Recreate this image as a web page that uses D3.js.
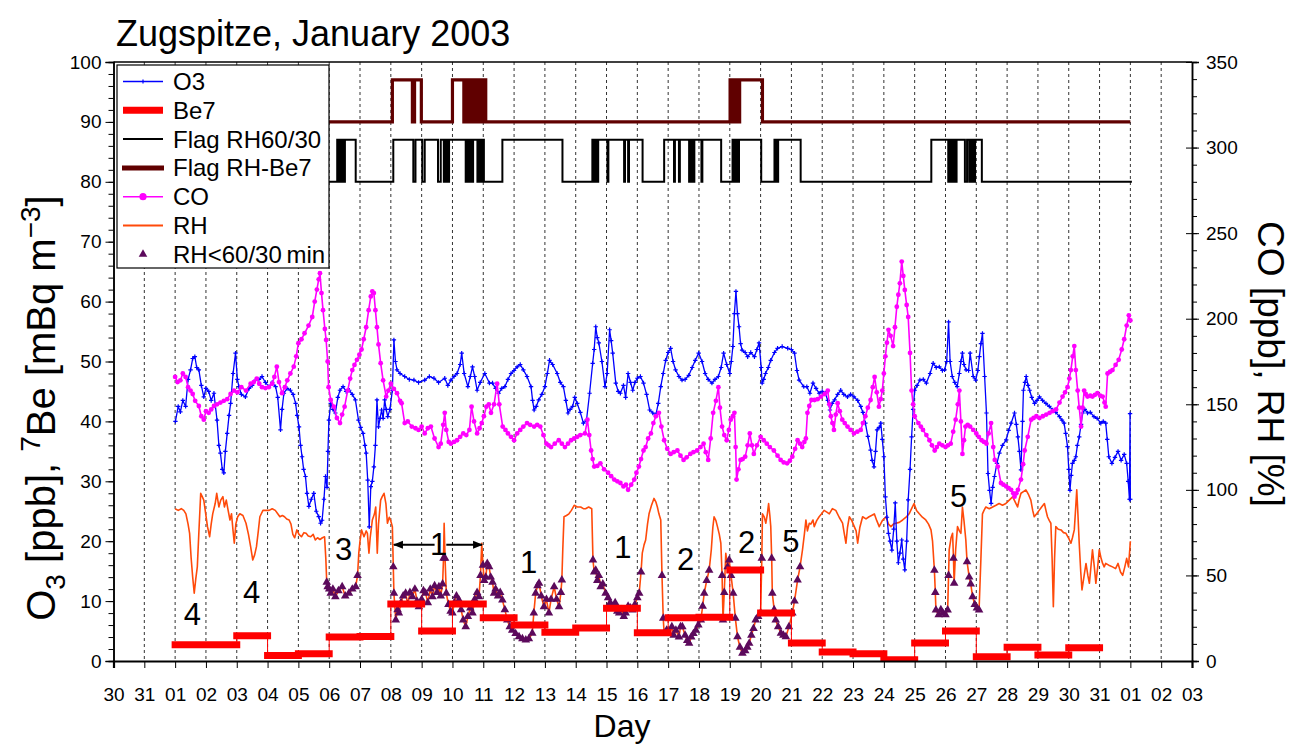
<!DOCTYPE html>
<html><head><meta charset="utf-8">
<script src="https://cdn.jsdelivr.net/npm/d3@7"></script>
<style>
body{margin:0;background:#fff;}
svg{display:block;font-family:"Liberation Sans",Arial,Helvetica,sans-serif;}
</style>
</head><body>
<svg id="chart" width="1295" height="745"></svg>
<script>
// ---- day axis: Dec 30 .. Feb 3 (day 1 = 1 Jan 2003 00:00) ----
const dayTicks = [-1,0,1,2,3,4,5,6,7,8,9,10,11,12,13,14,15,16,17,18,19,20,21,22,23,24,25,26,27,28,29,30,31,32,33,34];
const dayLabels = ["30","31","01","02","03","04","05","06","07","08","09","10","11","12","13","14","15","16","17","18","19","20","21","22","23","24","25","26","27","28","29","30","31","01","02","03"];
const leftTicks = [0,10,20,30,40,50,60,70,80,90,100];
const rightTicks = [0,50,100,150,200,250,300,350];

// ---- O3 [ppb] (left axis) ----
const o3 = [[1.01,40.0],[1.1,42.5],[1.17,41.6],[1.25,43.5],[1.34,42.5],[1.42,47],[1.5,48.6],[1.57,50.5],[1.64,50.8],[1.7,49],[1.77,48.6],[1.85,46],[1.93,44.1],[2.0,45.5],[2.09,45],[2.17,43.5],[2.26,44.7],[2.36,40.2],[2.42,36],[2.47,34.7],[2.53,32],[2.58,31.4],[2.63,35],[2.69,38],[2.75,41],[2.8,43],[2.88,48],[2.96,51.4],[3.02,47],[3.07,45.8],[3.15,44.5],[3.28,44.1],[3.4,45.5],[3.5,46],[3.61,46.9],[3.72,47],[3.82,47.5],[3.93,46.5],[4.04,45.8],[4.15,46.5],[4.26,45.8],[4.33,44],[4.42,38.6],[4.47,42],[4.53,44.7],[4.63,45.5],[4.74,45.2],[4.83,44.5],[4.91,43],[4.96,41],[5.02,39.1],[5.07,36],[5.12,34.1],[5.17,32],[5.23,30.8],[5.28,28],[5.34,25.8],[5.42,27],[5.5,28],[5.58,25],[5.66,24.1],[5.72,23],[5.77,23.5],[5.83,27],[5.88,30.8],[5.93,29],[5.96,35],[5.99,40.2],[6.05,43],[6.12,42],[6.2,41.4],[6.28,44],[6.35,45.2],[6.45,45.8],[6.55,45],[6.65,45.2],[6.75,44.5],[6.85,43.6],[6.95,40.2],[7.02,39],[7.1,38],[7.16,36],[7.2,34.7],[7.25,30.2],[7.3,22.4],[7.35,29.1],[7.4,30],[7.45,32.4],[7.5,36],[7.55,43.6],[7.6,39.1],[7.65,40.5],[7.7,41.9],[7.75,40.5],[7.8,43.6],[7.85,42],[7.9,40.8],[7.97,42],[8.05,45.2],[8.1,53.6],[8.15,50],[8.2,48.6],[8.3,48],[8.45,47.5],[8.6,47],[8.75,46.9],[8.9,46.5],[9.1,46.9],[9.25,47.5],[9.4,47.2],[9.55,46.5],[9.75,47.2],[9.85,46],[9.95,46.9],[10.05,47.5],[10.15,48],[10.25,49.5],[10.3,51.4],[10.38,48],[10.5,45.8],[10.58,47.5],[10.65,49.1],[10.72,47.5],[10.8,45.2],[10.9,46.5],[11.05,48],[11.2,46.4],[11.3,46.4],[11.4,45.5],[11.5,44.7],[11.6,45.5],[11.7,45.8],[11.8,47],[11.9,48],[12.0,48.5],[12.1,49.1],[12.2,49.5],[12.3,48.6],[12.42,47.5],[12.55,45.8],[12.6,43.5],[12.65,41.9],[12.72,42.5],[12.8,43.6],[12.9,44.5],[13.0,45.8],[13.08,48],[13.15,50.2],[13.25,49.5],[13.4,48],[13.5,46.5],[13.6,45.8],[13.68,43.5],[13.75,41.4],[13.82,42],[13.9,42.5],[13.97,44],[14.05,43],[14.15,41.5],[14.25,39.7],[14.35,40.2],[14.45,44.7],[14.55,49.7],[14.6,52],[14.65,55.8],[14.7,54],[14.75,53.1],[14.85,50],[14.95,45.8],[15.02,48],[15.1,55.3],[15.15,53.5],[15.2,51.4],[15.3,46.4],[15.38,45],[15.45,44.7],[15.55,46],[15.62,44],[15.7,48],[15.78,46.5],[15.85,45.2],[15.92,46.5],[16.0,47.2],[16.1,47.5],[16.2,46.4],[16.3,44.5],[16.4,41.9],[16.5,41.4],[16.6,41.1],[16.68,43],[16.76,45.8],[16.84,48],[16.92,50.2],[17.0,51.5],[17.08,52.2],[17.16,50],[17.24,48.6],[17.35,47.5],[17.45,46.9],[17.55,47],[17.67,47.7],[17.78,49],[17.88,50.2],[17.99,51.4],[18.1,50],[18.2,48],[18.3,47],[18.42,46.4],[18.52,47],[18.63,47.5],[18.72,49],[18.8,51.4],[18.9,49.5],[19.0,48],[19.05,50],[19.1,52.5],[19.15,58],[19.2,61.7],[19.25,58],[19.3,55.8],[19.35,53],[19.4,51.9],[19.5,51.5],[19.58,50.8],[19.68,51.5],[19.8,50.8],[19.88,52],[19.95,53.1],[20.02,49],[20.05,46.4],[20.1,47],[20.16,48],[20.25,49],[20.33,50.2],[20.45,51.5],[20.55,52.2],[20.7,52.5],[20.88,52.2],[21.0,52],[21.1,51.4],[21.18,48.5],[21.25,46.9],[21.4,45.8],[21.5,45.8],[21.6,44.7],[21.7,46.4],[21.8,45.5],[21.9,44.7],[22.0,45],[22.1,44.7],[22.18,43.5],[22.25,41.9],[22.32,43],[22.4,43.6],[22.5,44.5],[22.6,45.2],[22.7,44.5],[22.82,44.1],[22.92,44.5],[23.03,44.1],[23.15,43.5],[23.25,42.5],[23.32,41.5],[23.4,39.7],[23.48,37.5],[23.57,35.2],[23.62,33.5],[23.68,32.4],[23.73,35],[23.78,38.6],[23.85,39],[23.9,39.7],[23.95,37],[24.0,34.1],[24.05,27.4],[24.1,24],[24.15,21.3],[24.2,20],[24.26,18.5],[24.32,22],[24.37,26.4],[24.42,20],[24.47,16.4],[24.52,18],[24.58,20.2],[24.63,17],[24.68,15.2],[24.74,20],[24.79,26.9],[24.85,32],[24.9,37.4],[24.95,42],[25.0,45.2],[25.08,46],[25.17,46.9],[25.28,47],[25.38,46.4],[25.5,48],[25.6,49.7],[25.7,49],[25.8,49.1],[25.9,48.5],[25.97,48.6],[26.04,50],[26.1,56.6],[26.15,50],[26.22,47.5],[26.3,46.5],[26.38,45.8],[26.45,48],[26.5,50],[26.55,51.4],[26.6,49.5],[26.67,48.6],[26.75,48.5],[26.8,51.4],[26.9,47.5],[26.98,46.9],[27.05,48.5],[27.1,50.8],[27.15,53],[27.2,54.7],[27.27,47.5],[27.33,41.4],[27.38,31.3],[27.43,28.5],[27.48,26.3],[27.53,29],[27.59,30.8],[27.67,33],[27.75,34.7],[27.85,36],[27.97,36.9],[28.05,38.5],[28.13,39.7],[28.24,41.4],[28.3,39.5],[28.35,37.4],[28.4,35],[28.45,31.9],[28.5,40],[28.53,45.2],[28.58,46.5],[28.62,47.5],[28.68,46],[28.73,45.2],[28.8,44],[28.89,43],[28.97,43.5],[29.05,44.1],[29.15,43.5],[29.26,43],[29.37,42.5],[29.48,41.9],[29.58,41.5],[29.7,40.8],[29.78,40.2],[29.85,39.7],[29.9,38],[29.96,35.8],[30.0,32],[30.04,28.5],[30.08,31],[30.12,33],[30.18,33.5],[30.23,34.1],[30.28,36],[30.34,37.4],[30.4,39.5],[30.45,41.4],[30.52,42],[30.61,41.4],[30.7,41.5],[30.82,40.8],[30.92,40.5],[31.04,39.7],[31.12,40],[31.2,39.7],[31.25,37],[31.3,34.1],[31.4,33],[31.5,34],[31.6,35],[31.7,33.5],[31.8,34.5],[31.88,33],[31.93,30],[31.97,27],[31.99,41.3],[32.0,27]];

// ---- CO [ppb] (right axis) ----
const co = [[1.0,166],[1.08,163],[1.17,164],[1.25,168],[1.34,166],[1.42,160],[1.5,158],[1.57,156],[1.65,152],[1.77,149],[1.85,143],[1.93,141],[2.0,146],[2.09,145],[2.17,147],[2.26,149],[2.36,150],[2.47,151],[2.58,152],[2.69,153],[2.8,156],[2.91,158],[3.02,157],[3.15,160],[3.3,158],[3.45,162],[3.55,163],[3.65,165],[3.73,162],[3.82,160],[3.93,159.5],[4.04,160],[4.15,162],[4.22,166],[4.3,172],[4.37,163],[4.47,156.5],[4.56,160],[4.64,164],[4.74,168],[4.85,172],[4.93,178],[5.0,185.7],[5.1,188],[5.2,191.5],[5.33,196],[5.45,201],[5.53,210],[5.6,217],[5.66,223],[5.7,226.6],[5.75,215],[5.8,205],[5.86,194],[5.9,187.6],[5.95,175],[5.98,160],[6.05,152.5],[6.15,148.6],[6.25,142],[6.35,139],[6.42,144],[6.5,148.6],[6.6,158],[6.68,165],[6.75,170],[6.82,173],[6.9,176],[6.98,179],[7.05,182],[7.12,188],[7.2,195],[7.28,205],[7.35,213],[7.4,216],[7.45,215],[7.5,205],[7.55,195],[7.6,185],[7.67,174],[7.75,164],[7.85,154.5],[7.92,158],[8.0,162],[8.1,159],[8.2,156.5],[8.3,152],[8.35,150.6],[8.45,139],[8.55,140],[8.68,137],[8.8,136],[8.9,135],[9.0,137],[9.1,133],[9.2,136],[9.3,137],[9.42,130],[9.55,125],[9.62,127],[9.7,138],[9.75,145],[9.8,135],[9.88,128],[9.95,127],[10.05,128],[10.15,129],[10.25,131],[10.35,133],[10.45,132],[10.55,135],[10.62,148.6],[10.7,140],[10.8,133],[10.88,136],[10.95,139],[11.02,143],[11.1,148.6],[11.18,150],[11.25,145],[11.35,150],[11.45,162],[11.52,150],[11.63,137],[11.72,135],[11.8,133],[11.9,131],[12.0,129],[12.1,133],[12.2,135],[12.3,137],[12.42,139],[12.52,138],[12.65,137],[12.75,138],[12.85,137],[12.95,132],[13.05,127],[13.12,126],[13.2,125],[13.32,127],[13.45,129],[13.55,127],[13.65,125],[13.75,127],[13.85,129],[13.95,130],[14.05,131],[14.15,132],[14.3,133],[14.38,141],[14.44,132],[14.5,123],[14.55,118],[14.6,113.6],[14.7,114],[14.8,115.5],[14.92,112],[15.05,110],[15.15,108],[15.25,106],[15.35,105],[15.45,104],[15.55,102],[15.63,103],[15.7,100],[15.8,103],[15.9,106],[15.97,110],[16.05,113.6],[16.12,118],[16.2,123],[16.27,125],[16.35,130],[16.44,133],[16.52,139],[16.6,143],[16.7,145],[16.78,137],[16.87,129],[16.97,124],[17.08,121],[17.18,122],[17.3,123],[17.4,120],[17.5,117.5],[17.6,119],[17.72,121],[17.82,122],[17.94,123],[18.05,125],[18.15,127],[18.22,122],[18.3,117.5],[18.38,130],[18.46,145],[18.55,152],[18.63,160],[18.68,148],[18.75,137],[18.82,132],[18.9,129],[18.97,135],[19.03,141],[19.1,143],[19.15,145],[19.19,125],[19.22,106],[19.28,112],[19.35,117.5],[19.42,118],[19.5,119.4],[19.58,126],[19.65,133],[19.72,126],[19.78,121],[19.88,126],[20.0,131],[20.1,129],[20.2,127],[20.3,125],[20.43,123],[20.55,120],[20.65,117.5],[20.75,116],[20.86,115.5],[20.95,117],[21.03,119.4],[21.12,124],[21.2,129],[21.28,127],[21.35,125],[21.42,128],[21.47,130],[21.52,145],[21.58,149],[21.65,152.5],[21.75,152.5],[21.85,153],[21.96,154.5],[22.08,156],[22.18,158],[22.23,150],[22.28,143],[22.33,139],[22.38,135],[22.44,144],[22.5,150.6],[22.57,146],[22.65,141],[22.73,139],[22.82,137],[22.92,135],[23.03,133],[23.14,134],[23.25,135],[23.32,139],[23.4,143],[23.48,148],[23.57,152.5],[23.64,160],[23.7,166],[23.77,157],[23.84,148.6],[23.9,153],[23.95,158],[24.0,168],[24.05,178],[24.1,186],[24.15,193.5],[24.22,190],[24.3,184],[24.36,195],[24.42,207],[24.47,214],[24.52,220.7],[24.58,233.4],[24.63,225],[24.68,216.8],[24.74,208],[24.79,201],[24.85,180],[24.9,158],[24.95,150],[25.0,143],[25.12,139],[25.2,137],[25.27,135],[25.38,132],[25.48,129],[25.56,126],[25.65,123],[25.72,125],[25.8,127],[25.9,126],[26.0,125],[26.08,126],[26.17,127],[26.25,134],[26.33,141],[26.4,150],[26.45,158],[26.5,140],[26.55,121],[26.6,129],[26.65,137],[26.72,138],[26.8,137],[26.9,135],[27.0,133],[27.08,131],[27.17,129],[27.25,128],[27.33,127],[27.4,133],[27.48,139],[27.55,125],[27.6,117.5],[27.7,113.6],[27.8,104],[27.88,103],[27.97,102],[28.05,101],[28.13,100],[28.2,98],[28.24,96],[28.3,98],[28.35,100],[28.45,106],[28.52,115],[28.57,123],[28.67,131],[28.78,141],[28.86,142],[28.95,143],[29.05,142],[29.16,143],[29.27,144],[29.38,145],[29.48,146],[29.59,147],[29.7,151],[29.8,154.5],[29.88,157],[29.96,160],[30.02,165],[30.07,170],[30.13,178],[30.18,184],[30.23,170],[30.29,158],[30.34,148],[30.4,137],[30.45,148],[30.5,158],[30.55,156],[30.61,154.5],[30.7,155],[30.77,154.5],[30.85,155.5],[30.93,156.5],[31.02,155],[31.1,154.5],[31.16,151],[31.2,148.6],[31.26,168],[31.34,169],[31.42,170],[31.52,173],[31.62,176],[31.72,182],[31.8,188],[31.88,196],[31.95,202],[32.0,199]];

// ---- RH [%] (right axis) ----
const rh = [[1.0,89],[1.1,88],[1.2,89],[1.28,88],[1.35,86],[1.42,80],[1.47,74.6],[1.52,60],[1.57,49],[1.62,39.6],[1.67,48],[1.72,55],[1.77,75],[1.83,98],[1.88,96],[1.93,94],[2.0,85],[2.05,78.5],[2.12,72.6],[2.17,80],[2.22,86],[2.3,92],[2.35,98],[2.42,90],[2.48,94],[2.55,96],[2.6,90],[2.66,94],[2.72,88],[2.78,82.4],[2.83,86],[2.88,76],[2.92,68.8],[2.97,80],[3.03,84.3],[3.1,86],[3.2,85],[3.3,80.5],[3.38,74],[3.45,66.8],[3.52,59],[3.58,62],[3.64,66.8],[3.7,76],[3.75,84.3],[3.85,88],[3.95,88],[4.05,88],[4.15,89],[4.25,88],[4.33,86],[4.4,84.3],[4.48,85],[4.55,84.3],[4.62,83],[4.7,82.4],[4.76,80],[4.82,74],[4.88,72],[4.95,76.6],[5.02,74],[5.1,72.6],[5.18,75],[5.25,74.6],[5.32,73],[5.4,72.6],[5.48,74],[5.55,70.7],[5.62,72],[5.7,71],[5.78,72],[5.85,72.6],[5.89,60],[5.92,46],[5.95,43.4],[6.0,42],[6.05,39.6],[6.12,42],[6.2,37.6],[6.3,41],[6.42,43.4],[6.52,38],[6.64,39.6],[6.75,42],[6.86,43.4],[6.92,50],[6.96,63],[7.0,70],[7.05,76.6],[7.13,72.6],[7.2,76],[7.24,74.6],[7.29,63],[7.33,72],[7.4,82.4],[7.47,86],[7.51,90],[7.56,63],[7.6,80],[7.67,94],[7.72,96],[7.78,98],[7.84,92],[7.89,80.5],[7.95,84],[7.99,82.4],[8.05,78.5],[8.08,55],[8.1,39.6],[8.16,24],[8.22,30],[8.26,28],[8.33,34],[8.4,38],[8.48,39.6],[8.55,33],[8.62,40],[8.7,37.6],[8.78,42],[8.85,35],[8.91,31.7],[9.0,36],[9.06,41],[9.13,39.6],[9.2,34],[9.28,42],[9.35,37.6],[9.42,44],[9.5,40],[9.56,43.4],[9.62,38],[9.68,45],[9.71,60],[9.73,80.5],[9.76,60],[9.8,39.6],[9.87,33],[9.94,29],[10.0,28],[10.06,34],[10.13,38],[10.21,35.7],[10.28,30],[10.35,24],[10.43,20],[10.5,26],[10.58,31],[10.65,28],[10.72,36],[10.8,40],[10.86,37.6],[10.91,50],[10.95,68.8],[10.99,56],[11.03,47],[11.08,49],[11.13,57],[11.19,55],[11.24,49],[11.3,46],[11.35,39.6],[11.4,42],[11.48,38],[11.55,40],[11.62,35.7],[11.7,30],[11.78,24],[11.86,20],[11.94,18],[12.05,16],[12.16,14.2],[12.27,13],[12.38,12.3],[12.48,13],[12.59,16.2],[12.64,28],[12.7,39.6],[12.76,44],[12.81,45.4],[12.88,38],[12.97,31.7],[13.05,36],[13.13,28],[13.2,36],[13.3,43.4],[13.38,36],[13.46,31.7],[13.52,40],[13.55,47.3],[13.58,65],[13.62,84.3],[13.7,85],[13.78,86],[13.86,88],[13.95,91],[14.05,90],[14.16,90],[14.25,89],[14.32,89],[14.42,90],[14.52,89],[14.56,59],[14.6,52],[14.65,53],[14.7,47],[14.75,50],[14.81,43.4],[14.88,45],[14.97,39.6],[15.05,37],[15.12,34],[15.19,31.7],[15.28,34],[15.35,29],[15.41,28],[15.5,30],[15.56,26],[15.62,28],[15.7,32],[15.78,31],[15.84,29.8],[15.92,33],[16.0,37],[16.06,39.6],[16.12,52],[16.16,63],[16.22,68],[16.27,70.7],[16.33,80],[16.38,86],[16.46,91],[16.54,95],[16.6,93],[16.65,90],[16.7,86],[16.76,82.4],[16.8,50],[16.84,25],[16.87,16.2],[16.95,18],[17.03,16.2],[17.12,20],[17.18,15],[17.25,18],[17.35,14],[17.4,20],[17.46,20],[17.55,15],[17.62,12],[17.68,10.3],[17.75,14],[17.82,16],[17.9,18],[17.98,21],[18.06,24],[18.12,32],[18.17,39.6],[18.25,47],[18.33,53],[18.4,65],[18.45,78],[18.49,84.3],[18.55,82],[18.6,78.5],[18.66,74],[18.71,68.8],[18.75,50],[18.78,24],[18.82,40],[18.87,63],[18.93,55],[18.98,59],[19.04,50],[19.11,39.6],[19.18,25],[19.25,14.2],[19.33,8],[19.41,4.5],[19.5,6],[19.57,8],[19.63,10.3],[19.7,15],[19.77,19],[19.84,24],[19.92,26],[20.0,28],[20.04,60],[20.06,86],[20.12,84],[20.17,80.5],[20.22,86],[20.26,92],[20.3,85],[20.33,78.5],[20.36,60],[20.38,39.6],[20.44,30],[20.49,24],[20.57,20],[20.66,16.2],[20.74,15],[20.82,14.2],[20.92,20],[21.03,28],[21.1,35],[21.2,47.3],[21.28,55],[21.36,65],[21.42,74],[21.47,82.4],[21.52,76],[21.58,80.5],[21.63,80],[21.7,82.4],[21.74,78.5],[21.82,82],[21.9,84.3],[21.98,86],[22.06,88],[22.15,87],[22.23,86],[22.33,89],[22.44,88],[22.55,84],[22.66,80.5],[22.72,74],[22.77,68.8],[22.82,78],[22.88,84.3],[22.96,82],[23.04,78.5],[23.1,76],[23.15,68.8],[23.22,78],[23.31,84.3],[23.42,83],[23.52,84.3],[23.6,85],[23.69,86],[23.77,82],[23.85,78.5],[23.95,82],[24.07,84.3],[24.15,80],[24.23,78.5],[24.31,80],[24.39,80.5],[24.5,81],[24.61,82.4],[24.72,84],[24.82,86],[24.9,89],[24.98,92],[25.06,88],[25.15,86],[25.25,84],[25.36,82.4],[25.45,80],[25.53,76.6],[25.58,70],[25.64,53],[25.67,40],[25.69,29.8],[25.78,27],[25.85,30],[25.91,28],[26.0,27],[26.07,29.8],[26.1,50],[26.12,65],[26.18,72],[26.23,74.6],[26.26,60],[26.28,45.4],[26.33,65],[26.39,78.5],[26.45,76],[26.5,74.6],[26.55,90],[26.6,82],[26.66,70.7],[26.7,58],[26.77,49],[26.82,45],[26.88,37.6],[26.95,33],[27.02,31],[27.09,29.8],[27.15,60],[27.2,86],[27.25,88],[27.31,90],[27.42,89],[27.53,90],[27.64,91],[27.74,92],[27.85,91],[27.96,92],[28.07,94],[28.18,96],[28.26,93],[28.34,90],[28.4,95],[28.45,98],[28.53,99],[28.61,100],[28.7,97],[28.77,94],[28.83,88],[28.88,84.3],[28.96,86],[29.04,88],[29.12,90],[29.21,92],[29.26,88],[29.31,84.3],[29.37,82],[29.42,80.5],[29.46,60],[29.5,31.7],[29.54,60],[29.58,78.5],[29.66,77],[29.75,76.6],[29.83,75],[29.91,74.6],[29.99,72],[30.07,68.8],[30.12,72],[30.18,76.6],[30.22,88],[30.26,100],[30.3,85],[30.34,68.8],[30.39,52],[30.43,41.5],[30.5,50],[30.56,57],[30.62,50],[30.67,45.4],[30.72,55],[30.77,65],[30.83,55],[30.88,45.4],[30.94,55],[30.99,65],[31.05,60],[31.1,57],[31.15,55],[31.2,57],[31.3,56],[31.42,55],[31.52,54],[31.6,57],[31.68,52],[31.75,50],[31.82,55],[31.88,60],[31.94,55],[32.0,70]];

// periods in which RH stayed below 60 % for at least 30 min
const lowRhPeriods = [[5.92,6.95],[8.06,11.25],[11.3,13.56],[14.55,16.14],[16.8,18.5],[18.72,21.3],[25.62,27.12]];
const lowRhLimit = 62;

// ---- 7Be [mBq m-3] (left axis), sampling intervals ----
const be7Start = [1,3,4,5,6,7,8,9,10,11,12,13,14,15,16,17,18,19,20,21,22,23,24,25,26,27,28,29,30];
const be7End   = [3,4,5,6,7,8,9,10,11,12,13,14,15,16,17,18,19,20,21,22,23,24,25,26,27,28,29,30,31];
const be7Val   = [2.7,4.2,0.9,1.2,4.0,4.1,9.5,5.0,9.5,7.2,6.0,4.8,5.5,8.8,4.7,7.2,7.3,15.2,8.0,3.0,1.5,1.2,0.2,3.0,5.0,0.7,2.3,1.0,2.2];

// ---- flags (plotted on the left axis): [day, level] step changes ----
const flagRH60 = [[1,80],[6.26,87],[6.29,80],[6.31,87],[6.35,80],[6.37,87],[6.42,80],[6.44,87],[6.49,80],[6.51,87],[6.86,80],
  [8.08,87],[8.73,80],[8.8,87],[9.02,80],[9.1,87],[9.53,80],[9.62,87],[9.72,80],[9.75,87],[9.78,80],[9.81,87],[9.85,80],[9.89,87],
  [10.43,80],[10.46,87],[10.5,80],[10.53,87],[10.57,80],[10.6,87],[10.65,80],[10.67,87],
  [10.81,80],[10.84,87],[10.88,80],[10.91,87],[10.95,80],[10.98,87],[11.02,80],
  [11.62,87],[13.57,80],
  [14.54,87],[14.57,80],[14.6,87],[14.63,80],[14.66,87],[14.7,80],[14.73,87],
  [15.03,80],[15.06,87],[15.57,80],[15.6,87],[15.7,80],[15.73,87],[16.17,80],
  [16.87,87],[17.19,80],[17.22,87],[17.35,80],[17.38,87],[17.68,80],[17.71,87],[17.75,80],[17.78,87],[17.82,80],[17.85,87],[18.08,80],[18.11,87],[18.72,80],
  [19.09,87],[19.12,80],[19.15,87],[19.19,80],[19.22,87],[19.27,80],[19.3,87],[20.02,80],
  [20.45,87],[20.48,80],[20.51,87],[20.54,80],[20.57,87],[21.3,80],
  [25.54,87],[26.09,80],[26.12,87],[26.16,80],[26.2,87],[26.25,80],[26.3,87],[26.33,80],[26.36,87],[26.63,80],[26.7,87],[26.77,80],[26.8,87],[26.85,80],[26.88,87],[26.93,80],[26.96,87],[27.18,80],[32.05,80]];
const flagRHBe7 = [[1,90],[8.05,97],[8.7,90],[8.77,97],[8.99,90],
  [10.0,97],[10.37,90],[10.41,97],[10.45,90],[10.5,97],[10.55,90],[10.58,97],[10.62,90],[10.66,97],[10.7,90],[10.73,97],[10.78,90],[10.82,97],[10.88,90],[10.92,97],[10.97,90],[11.0,97],[11.08,90],
  [19.01,97],[19.05,90],[19.08,97],[19.12,90],[19.15,97],[19.2,90],[19.23,97],[19.3,90],[19.32,97],[20.06,90],[32.0,90]];

// ---- event numbers written on the plot: [label, day, left-axis value] ----
const events = [["4",1.56,6.0],["4",3.48,9.7],["3",6.47,16.9],["1",9.55,17.7],["1",12.47,14.7],["1",15.53,17.2],["2",17.57,15.2],["2",19.55,18.0],["5",20.98,18.2],["5",26.43,25.7]];
// double arrow around the first "1": [fromDay, toDay, value]
const eventArrows = [[9.42,8.1,19.4],[9.8,10.96,19.4]];

const legendItems = ["O3","Be7","Flag RH60/30","Flag RH-Be7","CO","RH","RH<60/30\u2009min"];

// ================= drawing =================
const svg = d3.select("#chart");
const W = 1295, H = 745;
const plot = {left:113.5, right:1192, top:62, bottom:661};

const x = d3.scaleLinear().domain([-1,34]).range([plot.left, plot.right]);
const yL = d3.scaleLinear().domain([0,100]).range([plot.bottom, plot.top]);
const yR = d3.scaleLinear().domain([0,350]).range([plot.bottom, plot.top]);

const C = {o3:"#0000ff", be7:"#ff0000", flag60:"#000000", flagBe:"#600000", co:"#ff00ff", rh:"#ff4a0a", tri:"#5c0a5c"};

svg.append("rect").attr("width",W).attr("height",H).attr("fill","#fff");

// title
svg.append("text").attr("x",116).attr("y",46).attr("font-size",36).attr("fill","#000")
  .text("Zugspitze, January 2003");

// day grid
svg.append("g").selectAll("line").data(dayTicks.filter(d => d > -1 && d < 34)).join("line")
  .attr("x1",d=>x(d)).attr("x2",d=>x(d)).attr("y1",plot.top).attr("y2",plot.bottom)
  .attr("stroke","#333").attr("stroke-width",1).attr("stroke-dasharray","3,3");

svg.append("clipPath").attr("id","clip").append("rect")
  .attr("x",plot.left).attr("y",plot.top).attr("width",plot.right-plot.left).attr("height",plot.bottom-plot.top);
const g = svg.append("g").attr("clip-path","url(#clip)");

// RH
g.append("path").datum(rh)
  .attr("d", d3.line().x(d=>x(d[0])).y(d=>yR(d[1])))
  .attr("fill","none").attr("stroke",C.rh).attr("stroke-width",1.6).attr("stroke-linejoin","round");

// RH below 60 % for 30 min
const inLow = d => lowRhPeriods.some(p => d[0] >= p[0] && d[0] <= p[1]) && d[1] < lowRhLimit;
const tri = d3.symbol().type(d3.symbolTriangle).size(32);
g.append("g").selectAll("path").data(rh.filter(inLow)).join("path")
  .attr("d", tri).attr("transform", d=>`translate(${x(d[0])},${yR(d[1])})`)
  .attr("fill",C.tri);

// O3
g.append("path").datum(o3)
  .attr("d", d3.line().x(d=>x(d[0])).y(d=>yL(d[1])))
  .attr("fill","none").attr("stroke",C.o3).attr("stroke-width",1.3).attr("stroke-linejoin","round");
g.append("g").selectAll("path").data(o3).join("path")
  .attr("d","M-2.2,0H2.2M0,-2.2V2.2")
  .attr("transform", d=>`translate(${x(d[0])},${yL(d[1])})`)
  .attr("stroke",C.o3).attr("stroke-width",1.2);

// CO
g.append("path").datum(co)
  .attr("d", d3.line().x(d=>x(d[0])).y(d=>yR(d[1])))
  .attr("fill","none").attr("stroke",C.co).attr("stroke-width",1.6).attr("stroke-linejoin","round");
g.append("g").selectAll("circle").data(co).join("circle")
  .attr("cx",d=>x(d[0])).attr("cy",d=>yR(d[1])).attr("r",2.4).attr("fill",C.co);

// 7Be: thin step connector + thick sample bars
const be7Steps = [];
be7Val.forEach((v,i) => { be7Steps.push([be7Start[i], v]); be7Steps.push([be7End[i], v]); });
g.append("path").datum(be7Steps)
  .attr("d", d3.line().x(d=>x(d[0])).y(d=>yL(d[1])))
  .attr("fill","none").attr("stroke",C.be7).attr("stroke-width",1);
g.append("g").selectAll("line").data(be7Val).join("line")
  .attr("x1",(v,i)=>x(be7Start[i])).attr("x2",(v,i)=>x(be7End[i]))
  .attr("y1",v=>yL(v)).attr("y2",v=>yL(v))
  .attr("stroke",C.be7).attr("stroke-width",7).attr("stroke-linecap","square");

// flags
const stepLine = d3.line().curve(d3.curveStepAfter).x(d=>x(d[0])).y(d=>yL(d[1]));
g.append("path").datum(flagRH60).attr("d",stepLine)
  .attr("fill","none").attr("stroke",C.flag60).attr("stroke-width",2);
g.append("path").datum(flagRHBe7).attr("d",stepLine)
  .attr("fill","none").attr("stroke",C.flagBe).attr("stroke-width",3.2);

// event numbers
svg.append("g").selectAll("text").data(events).join("text")
  .attr("x",d=>x(d[1])).attr("y",d=>yL(d[2])).attr("text-anchor","middle")
  .attr("font-size",31).attr("fill","#000").text(d=>d[0]);
const defs = svg.append("defs");
defs.append("marker").attr("id","arr").attr("viewBox","0 0 10 10").attr("refX",9).attr("refY",5)
  .attr("markerWidth",5).attr("markerHeight",5).attr("orient","auto")
  .append("path").attr("d","M0,1L10,5L0,9Z").attr("fill","#000");
svg.append("g").selectAll("line").data(eventArrows).join("line")
  .attr("x1",d=>x(d[0])).attr("x2",d=>x(d[1])).attr("y1",d=>yL(d[2])).attr("y2",d=>yL(d[2]))
  .attr("stroke","#000").attr("stroke-width",2).attr("marker-end","url(#arr)");

// frame
svg.append("line").attr("x1",plot.left).attr("x2",plot.right).attr("y1",plot.top).attr("y2",plot.top)
  .attr("stroke","#000").attr("stroke-width",1.5);

// axes
const axL = svg.append("g").attr("transform",`translate(${plot.left},0)`);
axL.call(d3.axisLeft(yL).tickValues(d3.range(0,101,2)).tickSize(5).tickFormat(""));
axL.append("g").call(d3.axisLeft(yL).tickValues(leftTicks).tickSize(8).tickFormat(d3.format("d")));
const axR = svg.append("g").attr("transform",`translate(${plot.right},0)`);
axR.call(d3.axisRight(yR).tickValues(d3.range(0,351,10)).tickSize(5).tickFormat(""));
const axRm = axR.append("g").call(d3.axisRight(yR).tickValues(rightTicks).tickSize(7).tickFormat(d3.format("d")));
axRm.selectAll(".tick line").attr("x1",-6);
axRm.selectAll(".tick text").attr("x",14);
const axB = svg.append("g").attr("transform",`translate(0,${plot.bottom})`);
axB.call(d3.axisBottom(x).tickValues(dayTicks).tickSize(7).tickFormat((d,i)=>dayLabels[i]));
axB.selectAll(".tick text").attr("y",40).attr("dy",0);

svg.selectAll(".domain").attr("stroke","#000").attr("stroke-width",1.5);
axB.select(".domain").attr("stroke-width",2.2);
svg.selectAll(".tick line").attr("stroke","#000");
svg.selectAll(".tick text").attr("font-size",19).attr("font-family","Liberation Sans, Arial, sans-serif").attr("fill","#000");
axL.selectAll(".tick text").attr("x",-12);

// axis titles
const lt = svg.append("text").attr("transform","translate(55,408) rotate(-90)")
  .attr("text-anchor","middle").attr("font-size",40).attr("fill","#000");
lt.append("tspan").text("O");
lt.append("tspan").attr("font-size",28).attr("dy",10).text("3");
lt.append("tspan").attr("dy",-10).text(" [ppb],  ");
lt.append("tspan").attr("font-size",28).attr("dy",-15).text("7");
lt.append("tspan").attr("dy",15).text("Be [mBq m");
lt.append("tspan").attr("font-size",28).attr("dy",-15).text("\u22123");
lt.append("tspan").attr("dy",15).text("]");

svg.append("text").attr("transform","translate(1258,364) rotate(90)")
  .attr("text-anchor","middle").attr("font-size",37).attr("fill","#000").text("CO [ppb], RH [%]");

svg.append("text").attr("x",622).attr("y",737).attr("text-anchor","middle")
  .attr("font-size",32).attr("fill","#000").text("Day");

// legend
const lg = svg.append("g");
lg.append("rect").attr("x",117).attr("y",65).attr("width",212).attr("height",203)
  .attr("fill","#fff").attr("stroke","#000").attr("stroke-width",1.2);
const rowY = i => 81.5 + i*28.8;
const x0 = 123, x1 = 163, xm = 143;
lg.selectAll("text").data(legendItems).join("text")
  .attr("x",173).attr("y",(d,i)=>rowY(i)).attr("dy","0.35em").attr("font-size",24).attr("fill","#000").text(d=>d);
// O3
lg.append("line").attr("x1",x0).attr("x2",x1).attr("y1",rowY(0)).attr("y2",rowY(0)).attr("stroke",C.o3).attr("stroke-width",1.3);
lg.append("path").attr("d","M-2,0H2M0,-2V2").attr("transform",`translate(${xm},${rowY(0)})`).attr("stroke",C.o3).attr("stroke-width",1.2);
// Be7
lg.append("line").attr("x1",x0).attr("x2",x1).attr("y1",rowY(1)).attr("y2",rowY(1)).attr("stroke",C.be7).attr("stroke-width",7);
// flags
lg.append("line").attr("x1",x0).attr("x2",x1).attr("y1",rowY(2)).attr("y2",rowY(2)).attr("stroke",C.flag60).attr("stroke-width",2);
lg.append("line").attr("x1",x0-1).attr("x2",x1+1).attr("y1",rowY(3)).attr("y2",rowY(3)).attr("stroke",C.flagBe).attr("stroke-width",5);
// CO
lg.append("line").attr("x1",x0).attr("x2",x1).attr("y1",rowY(4)).attr("y2",rowY(4)).attr("stroke",C.co).attr("stroke-width",1.6);
lg.append("circle").attr("cx",xm).attr("cy",rowY(4)).attr("r",3.6).attr("fill",C.co);
// RH
lg.append("line").attr("x1",x0).attr("x2",x1).attr("y1",rowY(5)).attr("y2",rowY(5)).attr("stroke",C.rh).attr("stroke-width",2);
// RH<60/30 min
lg.append("path").attr("d",tri).attr("transform",`translate(${xm},${rowY(6)})`).attr("fill",C.tri);
</script>
</body></html>
